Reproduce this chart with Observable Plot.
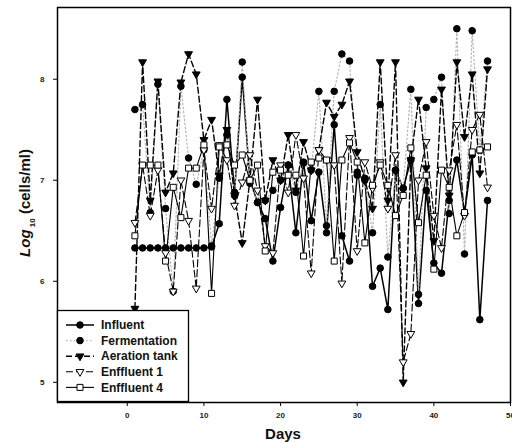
<!DOCTYPE html>
<html>
<head>
<meta charset="utf-8">
<script src="https://cdn.jsdelivr.net/npm/d3@7"></script>
<script src="https://cdn.jsdelivr.net/npm/@observablehq/plot@0.6"></script>
<style>
  html, body { margin: 0; padding: 0; background: #fff; }
  #chart { position: relative; width: 512px; height: 442px; }
  #chart svg { font-family: "Liberation Sans", Arial, sans-serif; }
</style>
</head>
<body>
<div id="chart"></div>
<script>
const days = [1,2,3,4,5,6,7,8,9,10,11,12,13,14,15,16,17,18,19,20,21,22,23,24,25,26,27,28,29,30,31,32,33,34,35,36,37,38,39,40,41,42,43,44,45,46,47];

const influent = [6.33,6.33,6.33,6.33,6.33,6.33,6.33,6.33,6.33,6.33,6.34,
  6.57,7.8,6.88,8.02,7.0,6.78,6.62,6.2,6.73,
  7.15,6.48,7.18,6.6,7.08,6.48,7.55,6.45,6.2,7.05,
  7.02,5.95,6.13,5.72,7.1,6.92,7.2,5.78,6.9,6.18,
  6.08,6.8,7.2,6.67,7.25,5.62,6.8];

const fermentation = [7.7,7.75,6.68,7.95,6.72,5.9,7.93,7.22,6.96,7.3,
  6.35,7.02,7.45,6.85,8.17,6.97,6.78,6.8,6.9,7.0,
  7.15,6.88,7.17,7.1,7.88,6.55,7.88,8.25,8.18,7.08,
  7.0,6.48,7.75,6.24,7.1,6.92,7.9,5.87,7.72,7.8,
  8.02,6.67,8.5,6.27,8.48,7.3,8.18];

const aeration = [5.73,8.17,6.8,7.98,6.88,7.07,7.97,8.25,8.05,7.4,
  7.6,7.05,7.5,6.85,6.38,7.0,7.8,6.8,7.2,7.0,
  7.45,6.9,7.38,7.1,7.3,7.77,7.63,7.75,7.98,7.28,
  7.0,6.72,8.17,6.8,8.17,5.0,7.2,7.8,7.12,6.4,
  7.9,6.85,8.17,7.43,8.05,7.07,8.1];

const effluent1 = [6.58,7.15,6.65,7.1,6.28,5.9,7.0,6.6,5.93,7.3,
  6.72,7.35,7.2,6.75,6.98,7.25,6.9,6.35,6.28,7.15,
  6.88,7.45,7.02,6.08,7.3,7.2,7.15,5.98,7.42,6.3,
  7.18,6.92,7.18,6.72,7.25,5.2,5.48,7.0,7.38,6.65,
  6.33,7.1,7.55,6.65,7.5,7.65,6.93];

const effluent4 = [6.45,7.15,7.15,7.15,6.2,6.93,6.63,7.12,7.12,7.35,
  5.88,7.33,7.35,7.15,7.25,7.0,7.15,6.3,7.08,7.1,
  7.05,7.05,6.25,7.18,7.22,7.2,6.2,7.2,7.37,7.18,
  6.38,6.95,7.15,6.95,6.65,6.85,7.32,6.58,7.05,6.12,
  7.1,6.93,6.45,6.68,7.28,7.3,7.33];

const seriesNames = ["Influent", "Fermentation", "Aeration tank", "Enffluent 1", "Enffluent 4"];
const xTicks = [0, 10, 20, 30, 40, 50];
const yTicks = [5, 6, 7, 8];

const styles = [
  {values: influent, stroke: "#000", width: 1.5, dash: null, symbol: "circle", fill: "#000", r: 3.3, rotate: 0},
  {values: fermentation, stroke: "#b5b5b5", width: 1.2, dash: "1.5,2.5", symbol: "circle", fill: "#000", r: 3.3, rotate: 0},
  {values: aeration, stroke: "#000", width: 1.4, dash: "6,3", symbol: "triangle", fill: "#000", r: 2.9, rotate: 180},
  {values: effluent1, stroke: "#000", width: 1.1, dash: "7,3", symbol: "triangle", fill: "#fff", r: 2.9, rotate: 180},
  {values: effluent4, stroke: "#000", width: 1.1, dash: null, symbol: "square", fill: "#fff", r: 3.4, rotate: 0}
];

const tables = styles.map((s, i) => days.map((d, j) => ({day: d, value: s.values[j], series: seriesNames[i]})));

const lineMarks = styles.map((s, i) => Plot.line(tables[i], {
  x: "day", y: "value", stroke: s.stroke, strokeWidth: s.width,
  strokeDasharray: s.dash || undefined
}));
const dotMarks = styles.map((s, i) => Plot.dot(tables[i], {
  x: "day", y: "value", symbol: () => s.symbol, r: s.r, rotate: s.rotate,
  fill: s.fill, stroke: "#000", strokeWidth: 1
}));

const W = 512, H = 442;
const chart = Plot.plot({
  width: W, height: H,
  marginLeft: 57, marginRight: 2, marginTop: 7, marginBottom: 40,
  style: {background: "#fff", fontFamily: "Liberation Sans, Arial, sans-serif"},
  x: {domain: [-9.1, 50]},
  y: {domain: [4.8, 8.71]},
  marks: [
    Plot.axisX({ticks: xTicks, tickFormat: d => String(d), tickSize: 4, tickPadding: 6, fontSize: 8, fontWeight: "bold", fill: "#222", label: null}),
    Plot.axisY({ticks: yTicks, tickFormat: d => String(d), tickSize: 4, tickPadding: 9, fontSize: 8, fontWeight: "bold", fill: "#222", label: null}),
    ...lineMarks,
    ...dotMarks,
    Plot.frame({stroke: "#000", strokeWidth: 1.5})
  ]
});
document.getElementById("chart").appendChild(chart);

const svg = d3.select(chart);
// y label
const yl = svg.append("text")
  .attr("transform", "translate(30,203) rotate(-90)")
  .attr("text-anchor", "middle")
  .attr("font-size", 15).attr("font-weight", "bold").attr("fill", "#111");
yl.append("tspan").attr("font-style", "italic").text("Log");
yl.append("tspan").attr("font-size", 8).attr("dy", 5).text(" 10");
yl.append("tspan").attr("dy", -5).text(" (cells/ml)");
// x label
svg.append("text").attr("x", 283).attr("y", 439).attr("text-anchor", "middle")
  .attr("font-size", 15).attr("font-weight", "bold").attr("fill", "#111").text("Days");

// legend
const lg = svg.append("g").attr("text-anchor", "start");
lg.append("rect").attr("x", 57.5).attr("y", 310.5).attr("width", 131).attr("height", 91)
  .attr("fill", "#fff").attr("stroke", "#000").attr("stroke-width", 1.3);
const symMap = {circle: d3.symbolCircle, triangle: d3.symbolTriangle, square: d3.symbolSquare};
styles.forEach((s, i) => {
  const y = 325 + i * 15.6;
  lg.append("line").attr("x1", 66).attr("x2", 94).attr("y1", y).attr("y2", y)
    .attr("stroke", s.stroke).attr("stroke-width", s.width)
    .attr("stroke-dasharray", s.dash);
  const area = Math.PI * s.r * s.r;
  lg.append("path").attr("d", d3.symbol(symMap[s.symbol], area)())
    .attr("transform", `translate(80,${y}) rotate(${s.rotate})`)
    .attr("fill", s.fill).attr("stroke", "#000");
  lg.append("text").attr("x", 101).attr("y", y + 4.2).attr("font-size", 12)
    .attr("text-anchor", "start")
    .attr("font-weight", "bold").attr("fill", "#111").text(seriesNames[i]);
});
</script>
</body>
</html>
